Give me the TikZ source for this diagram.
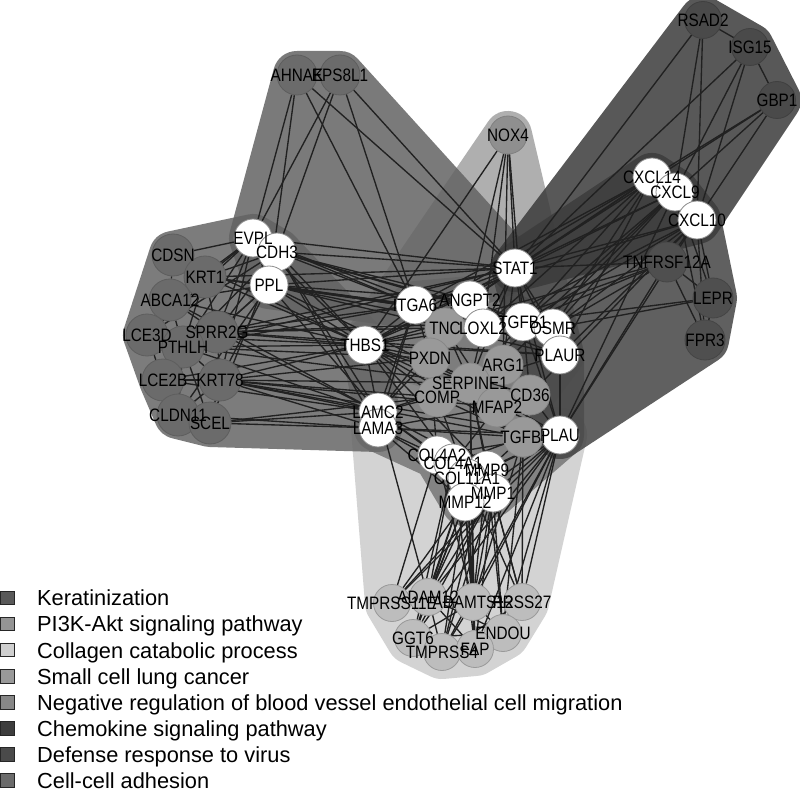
\documentclass[tikz,border=0pt]{standalone}
\usepackage{fontspec}
\setmainfont{Liberation Sans}
\newfontfamily\labfont{Liberation Sans}[FakeStretch=0.85]
\pgfdeclarelayer{hulls}
\pgfdeclarelayer{edges}
\pgfsetlayers{hulls,edges,main}
\definecolor{hColl}{gray}{0.80}
\definecolor{hNox}{gray}{0.635}
\definecolor{hCen}{gray}{0.46}
\definecolor{hKer}{gray}{0.40}
\definecolor{hAdh}{gray}{0.39}
\definecolor{hChe}{gray}{0.27}
\definecolor{hDef}{gray}{0.23}
\definecolor{nKer}{gray}{0.42}\definecolor{nKerB}{gray}{0.37}
\definecolor{nNox}{gray}{0.56}\definecolor{nNoxB}{gray}{0.50}
\definecolor{nCen}{gray}{0.60}\definecolor{nCenB}{gray}{0.53}
\definecolor{nBot}{gray}{0.74}\definecolor{nBotB}{gray}{0.60}
\definecolor{nDef}{gray}{0.29}\definecolor{nDefB}{gray}{0.25}
\definecolor{nChe}{gray}{0.31}\definecolor{nCheB}{gray}{0.27}
\definecolor{nWhB}{gray}{0.55}
\definecolor{edgeC}{gray}{0.13}
\definecolor{lgA}{gray}{0.35}\definecolor{lgB}{gray}{0.58}
\definecolor{lgC}{gray}{0.81}\definecolor{lgD}{gray}{0.60}
\definecolor{lgE}{gray}{0.53}\definecolor{lgF}{gray}{0.24}
\definecolor{lgG}{gray}{0.29}\definecolor{lgH}{gray}{0.42}
\tikzset{
  nd/.style={circle, minimum size=38pt, inner sep=0pt, draw, line width=0.8pt},
  wn/.style={nd, fill=white, draw=nWhB},
  kn/.style={nd, minimum size=42pt, fill=nKer, draw=nKerB},
  an/.style={nd, minimum size=40pt, fill=nKer, draw=nKerB},
  xn/.style={nd, fill=nNox, draw=nNoxB},
  cn/.style={nd, minimum size=40pt, fill=nCen, draw=nCenB},
  bn/.style={nd, minimum size=37pt, fill=nBot, draw=nBotB},
  dn/.style={nd, minimum size=37pt, fill=nDef, draw=nDefB},
  hn/.style={nd, minimum size=40pt, fill=nChe, draw=nCheB},
  lab/.style={font=\labfont\fontsize{18}{20}\selectfont, inner sep=0pt, text=black},
  edge/.style={draw=edgeC, line width=1.35pt},
  legsq/.style={draw=black!85, line width=1pt, minimum size=13.5pt, inner sep=0pt},
  legtxt/.style={font=\fontsize{21.8}{24}\selectfont, inner sep=0pt, anchor=base west}
}
\newcommand\hullshape[3][48pt]{%
  \begin{scope}[transparency group, opacity=0.85]
    \fill[#2] #3 -- cycle;
    \draw[#2, line width=#1, line join=round] #3 -- cycle;
  \end{scope}}
\begin{document}
\begin{tikzpicture}[x=1pt,y=-1pt]
\useasboundingbox (0,0) rectangle (800,791);
% ---------------- nodes ----------------
\foreach \n/\x/\y in {CDSN/173/255,KRT1/205/277,ABCA12/170/300,LCE3D/147/335,SPRR2G/217/332,PTHLH/183/347,LCE2B/163/380,KRT78/220/380,CLDN11/178/415,SCEL/210/423}
  \node[kn] (\n) at (\x,\y) {};
\foreach \n/\x/\y in {AHNAK/297/75,EPS8L1/340/75}
  \node[an] (\n) at (\x,\y) {};
\node[xn] (NOX4) at (508,135) {};
\foreach \n/\x/\y in {RSAD2/703/20,ISG15/750/47,GBP1/777/100}
  \node[dn] (\n) at (\x,\y) {};
\foreach \n/\x/\y in {TNFRSF12A/667/262,LEPR/713/298,FPR3/705/340}
  \node[hn] (\n) at (\x,\y) {};
\foreach \n/\x/\y in {TMPRSS11E/392/603,ADAM12/428/597,ADAMTS12/473/602,PRSS27/522/602,GGT6/413/638,ENDOU/503/633,TMPRSS4/442/652,FAP/475/649}
  \node[bn] (\n) at (\x,\y) {};
\foreach \n/\x/\y in {TNC/445/328,PXDN/430/358,ARG1/503/365,SERPINE1/470/383,COMP/437/397,CD36/530/395,MFAP2/497/407,TGFBI/523/437}
  \node[cn] (\n) at (\x,\y) {};
\foreach \n/\x/\y in {EVPL/253/238,CDH3/277/252,PPL/269/285,STAT1/515/268,ITGA6/415/305,ANGPT2/470/300,LOXL2/483/328,TGFB1/523/322,OSMR/553/328,PLAUR/560/355,THBS1/365/345,LAMC2/378/412,LAMA3/378/428,PLAU/560/435,COL4A2/437/455,COL4A1/453/463,MMP9/487/470,COL11A1/467/478,MMP1/493/493,MMP12/465/502,CXCL14/652/177,CXCL9/675/192,CXCL10/697/220}
  \node[wn] (\n) at (\x,\y) {};
% labels
\foreach \n in {CDSN,KRT1,ABCA12,LCE3D,SPRR2G,PTHLH,LCE2B,KRT78,CLDN11,SCEL,AHNAK,EPS8L1,NOX4,RSAD2,ISG15,GBP1,TNFRSF12A,LEPR,FPR3,TMPRSS11E,ADAM12,ADAMTS12,PRSS27,GGT6,ENDOU,TMPRSS4,FAP,TNC,PXDN,ARG1,SERPINE1,COMP,CD36,MFAP2,TGFBI,EVPL,CDH3,PPL,STAT1,ITGA6,ANGPT2,LOXL2,TGFB1,OSMR,PLAUR,THBS1,LAMC2,LAMA3,PLAU,COL4A2,COL4A1,MMP9,COL11A1,MMP1,MMP12,CXCL14,CXCL9,CXCL10}
  \node[lab] (t\n) at (\n.center) {\n};
% ---------------- hulls ----------------
\begin{pgfonlayer}{hulls}
\fill[white] (0,0) rectangle (800,791);
\hullshape[54pt]{hColl}{(LAMA3.center) -- (PLAU.center) -- (PRSS27.center) -- (ENDOU.center) -- (FAP.center) -- (TMPRSS4.center) -- (GGT6.center) -- (TMPRSS11E.center)}
\hullshape{hNox}{(NOX4.center) -- (PLAUR.center) -- (CD36.center) -- (THBS1.center)}
\hullshape{hCen}{(THBS1.center) -- (ITGA6.center) -- (ANGPT2.center) -- (TGFB1.center) -- (OSMR.center) -- (PLAUR.center) -- (PLAU.center) -- (MMP1.center) -- (MMP12.center) -- (COL4A2.center) -- (LAMA3.center) -- (LAMC2.center)}
\hullshape{hKer}{(LCE3D.center) -- (CDSN.center) -- (EVPL.center) -- (CDH3.center) -- (THBS1.center) -- (LAMA3.center) -- (SCEL.center) -- (CLDN11.center) -- (LCE2B.center)}
\hullshape{hAdh}{(AHNAK.center) -- (EPS8L1.center) -- (STAT1.center) -- (ITGA6.center) -- (PPL.center) -- (EVPL.center)}
\hullshape{hChe}{(STAT1.center) -- (CXCL14.center) -- (CXCL9.center) -- (CXCL10.center) -- (LEPR.center) -- (FPR3.center) -- (PLAU.center)}
\hullshape{hDef}{(RSAD2.center) -- (ISG15.center) -- (GBP1.center) -- (CXCL10.center) -- (STAT1.center)}
\end{pgfonlayer}
% ---------------- edges ----------------
\begin{pgfonlayer}{edges}
\foreach \a/\b in {CDSN/KRT1,CDSN/ABCA12,KRT1/ABCA12,ABCA12/LCE3D,ABCA12/PTHLH,LCE3D/PTHLH,LCE3D/LCE2B,PTHLH/SPRR2G,KRT1/SPRR2G,PTHLH/LCE2B,LCE2B/CLDN11,LCE2B/KRT78,KRT78/SCEL,CLDN11/SCEL,PTHLH/KRT78,SPRR2G/KRT78,LCE2B/SCEL,KRT1/PTHLH,PTHLH/SCEL,PTHLH/CLDN11,ABCA12/SPRR2G,LCE3D/SPRR2G,CLDN11/KRT78}
  \draw[edge] (\a) -- (\b);
\foreach \a/\b in {CDSN/EVPL,KRT1/EVPL,KRT1/CDH3,ABCA12/EVPL,ABCA12/PPL,SPRR2G/EVPL,SPRR2G/CDH3,PTHLH/EVPL,PTHLH/CDH3,LCE3D/CDH3,LCE2B/PPL,KRT78/PPL,KRT78/EVPL,SCEL/CDH3,CLDN11/PPL,SPRR2G/PPL,KRT1/PPL,LCE3D/EVPL}
  \draw[edge] (\a) -- (\b);
\foreach \a/\b in {SPRR2G/THBS1,SPRR2G/LAMC2,SPRR2G/ITGA6,SPRR2G/STAT1,KRT78/LAMC2,KRT78/LAMA3,KRT78/THBS1,KRT78/COMP,KRT78/PXDN,KRT78/SERPINE1,SCEL/LAMA3,SCEL/LAMC2,PTHLH/THBS1,PTHLH/LAMC2,PTHLH/ITGA6,PTHLH/PXDN,PTHLH/STAT1,KRT1/STAT1,KRT1/THBS1,ABCA12/THBS1,LCE3D/THBS1,KRT1/ITGA6,CLDN11/LAMA3,LCE2B/LAMC2,KRT78/TGFBI,KRT78/PLAU,SPRR2G/PLAUR,SPRR2G/TGFB1,PTHLH/SERPINE1,LCE2B/THBS1,SPRR2G/TNC,KRT78/MFAP2,SCEL/COMP,ABCA12/LAMC2,KRT1/TGFB1,CDSN/THBS1}
  \draw[edge] (\a) -- (\b);
\foreach \a/\b in {EVPL/STAT1,EVPL/ITGA6,EVPL/THBS1,CDH3/STAT1,CDH3/ITGA6,CDH3/TGFB1,CDH3/LAMC2,CDH3/THBS1,PPL/STAT1,PPL/ITGA6,PPL/ANGPT2,PPL/LOXL2,PPL/THBS1,PPL/LAMC2,PPL/TGFB1,PPL/OSMR,CDH3/ANGPT2,EVPL/PPL,EVPL/CDH3,CDH3/PPL,EVPL/PLAUR,PPL/PLAUR,CDH3/OSMR,PPL/SERPINE1,CDH3/LAMA3}
  \draw[edge] (\a) -- (\b);
\foreach \a/\b in {AHNAK/EPS8L1,AHNAK/EVPL,AHNAK/PPL,AHNAK/STAT1,AHNAK/ITGA6,EPS8L1/EVPL,EPS8L1/CDH3,EPS8L1/ITGA6,EPS8L1/STAT1,NOX4/THBS1,NOX4/ANGPT2,NOX4/LOXL2,NOX4/ARG1,NOX4/TGFB1,NOX4/STAT1}
  \draw[edge] (\a) -- (\b);
\foreach \a/\b in {RSAD2/ISG15,ISG15/GBP1,RSAD2/STAT1,RSAD2/CXCL9,RSAD2/CXCL10,ISG15/STAT1,ISG15/CXCL9,ISG15/CXCL10,GBP1/CXCL14,GBP1/CXCL9,GBP1/CXCL10,GBP1/STAT1}
  \draw[edge] (\a) -- (\b);
\foreach \a/\b in {CXCL14/STAT1,CXCL14/ITGA6,CXCL14/THBS1,CXCL14/ANGPT2,CXCL14/TGFB1,CXCL14/OSMR,CXCL14/PLAUR,CXCL14/LOXL2,CXCL9/STAT1,CXCL9/TGFB1,CXCL9/OSMR,CXCL9/PLAU,CXCL9/ARG1,CXCL9/THBS1,CXCL9/SERPINE1,CXCL10/STAT1,CXCL10/OSMR,CXCL10/PLAUR,CXCL10/PLAU,CXCL10/TGFB1,CXCL10/CD36,CXCL10/ITGA6,CXCL10/LOXL2,CXCL10/TNFRSF12A,CXCL10/LEPR,CXCL10/FPR3,CXCL9/FPR3,CXCL14/CXCL9,CXCL9/CXCL10}
  \draw[edge] (\a) -- (\b);
\foreach \a/\b in {TNFRSF12A/STAT1,TNFRSF12A/TGFB1,TNFRSF12A/OSMR,TNFRSF12A/THBS1,TNFRSF12A/PLAU,TNFRSF12A/LEPR,TNFRSF12A/FPR3,TNFRSF12A/LOXL2,LEPR/TGFB1,LEPR/OSMR,LEPR/FPR3,LEPR/CXCL9}
  \draw[edge] (\a) -- (\b);
\foreach \a/\b in {ITGA6/THBS1,ITGA6/LAMC2,ITGA6/LAMA3,ITGA6/STAT1,ITGA6/TNC,ITGA6/PXDN,ANGPT2/STAT1,ANGPT2/TGFB1,ANGPT2/THBS1,LOXL2/TGFB1,LOXL2/TNC,LOXL2/SERPINE1,TGFB1/STAT1,TGFB1/SERPINE1,TGFB1/THBS1,TGFB1/PLAU,TGFB1/CD36,OSMR/STAT1,OSMR/PLAUR,PLAUR/PLAU,PLAUR/SERPINE1,PLAUR/THBS1,THBS1/LAMC2,THBS1/TNC,THBS1/PXDN,THBS1/COMP,THBS1/SERPINE1,THBS1/CD36,THBS1/MMP9,THBS1/COL4A1,THBS1/TGFBI,THBS1/PLAU}
  \draw[edge] (\a) -- (\b);
\foreach \a/\b in {LAMC2/TNC,LAMC2/PXDN,LAMC2/COMP,LAMC2/SERPINE1,LAMC2/MMP1,LAMC2/MMP9,LAMC2/COL4A2,LAMA3/COL4A1,LAMA3/MMP12,LAMA3/COL11A1,LAMA3/TGFBI,LAMA3/PLAU,LAMA3/MFAP2,TNC/SERPINE1,TNC/COMP,TNC/MFAP2,PXDN/COMP,PXDN/SERPINE1,PXDN/COL4A2,ARG1/SERPINE1,ARG1/CD36,SERPINE1/PLAU,SERPINE1/MMP9,SERPINE1/MMP1,SERPINE1/TGFBI,COMP/TGFBI,COMP/MFAP2,COMP/COL11A1,MFAP2/COL4A1,MFAP2/TGFBI,CD36/TGFBI,CD36/PLAU,TGFBI/MMP9,TGFBI/COL4A1,PLAU/MMP9,PLAU/MMP1,PLAU/MMP12,PLAU/COL4A2,PLAU/COL11A1,COL4A2/COL4A1,COL4A1/MMP9,MMP9/MMP1,MMP1/MMP12,COL11A1/MMP12,MMP9/MMP12,STAT1/THBS1,STAT1/LOXL2,STAT1/PLAU,STAT1/SERPINE1,STAT1/ARG1,STAT1/PLAUR}
  \draw[edge] (\a) -- (\b);
\foreach \a/\b in {PLAU/TMPRSS11E,PLAU/ADAM12,PLAU/ADAMTS12,PLAU/PRSS27,PLAU/GGT6,PLAU/TMPRSS4,PLAU/FAP,PLAU/ENDOU,MMP1/TMPRSS11E,MMP1/ADAM12,MMP1/ADAMTS12,MMP1/PRSS27,MMP1/GGT6,MMP1/FAP,MMP1/ENDOU,MMP1/TMPRSS4,MMP12/TMPRSS11E,MMP12/ADAM12,MMP12/ADAMTS12,MMP12/GGT6,MMP12/TMPRSS4,MMP12/FAP,COL11A1/ADAM12,COL11A1/ADAMTS12,COL11A1/PRSS27,COL11A1/FAP,COL11A1/GGT6,MMP9/ADAM12,MMP9/ADAMTS12,MMP9/ENDOU,MMP9/TMPRSS4,MMP9/PRSS27,COL4A1/ADAM12,COL4A1/GGT6,COL4A1/FAP,COL4A2/TMPRSS11E,COL4A2/ADAMTS12,TGFBI/ADAMTS12,TGFBI/ENDOU,TGFBI/PRSS27,SERPINE1/ADAMTS12,SERPINE1/FAP,LAMC2/ADAM12}
  \draw[edge] (\a) -- (\b);
\foreach \a/\b in {TMPRSS11E/ADAM12,ADAM12/ADAMTS12,ADAMTS12/PRSS27,GGT6/ADAMTS12,GGT6/ENDOU,TMPRSS4/ADAMTS12,FAP/ADAM12,ENDOU/ADAMTS12,TMPRSS4/PRSS27,GGT6/FAP,ADAM12/ENDOU,TMPRSS11E/ADAMTS12,GGT6/ADAM12,TMPRSS4/ADAM12,FAP/ENDOU}
  \draw[edge] (\a) -- (\b);
\end{pgfonlayer}
% ---------------- legend ----------------
\foreach \i/\c/\t in {0/lgA/Keratinization,1/lgB/PI3K-Akt signaling pathway,2/lgC/Collagen catabolic process,3/lgD/Small cell lung cancer,4/lgE/Negative regulation of blood vessel endothelial cell migration,5/lgF/Chemokine signaling pathway,6/lgG/Defense response to virus,7/lgH/Cell-cell adhesion}{
  \node[legsq, fill=\c] (sq\i) at (7.5, 598+26.1*\i) {};
  \node[legtxt] (lt\i) at (37, 598+26.1*\i+7.8) {\t};
}
\end{tikzpicture}
\end{document}
